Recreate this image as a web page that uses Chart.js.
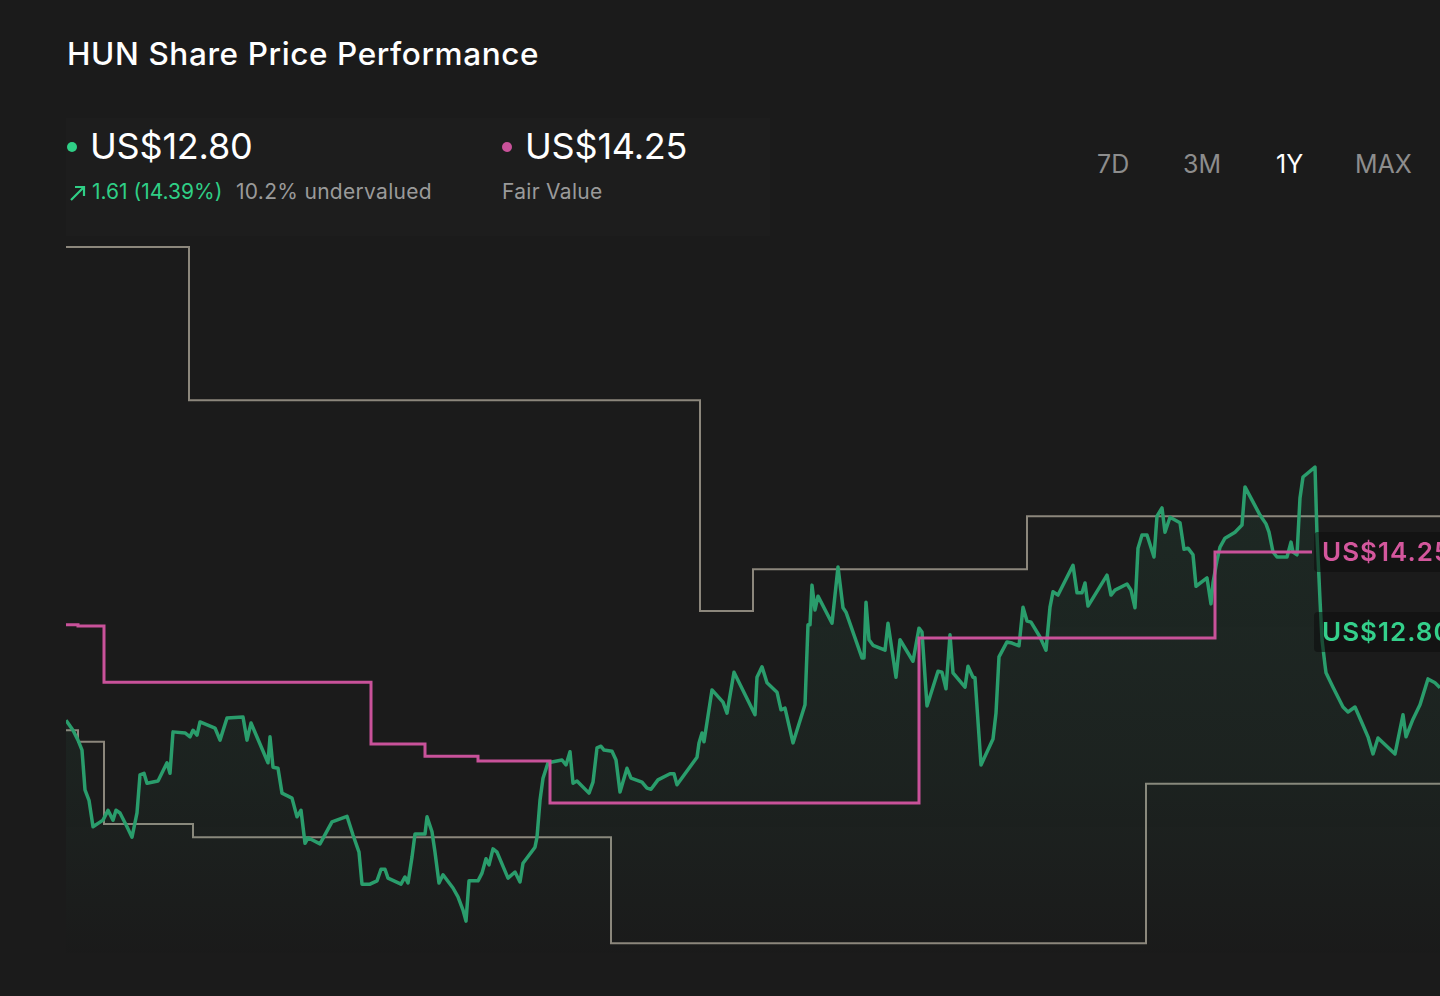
<!DOCTYPE html>
<html>
<head>
<meta charset="utf-8">
<title>HUN Share Price Performance</title>
<script src="https://cdn.jsdelivr.net/npm/chart.js@4.4.1/dist/chart.umd.min.js"></script>
<style>
  html, body { margin: 0; padding: 0; background: #1b1b1b; overflow: hidden; }
  body { width: 1440px; height: 996px; position: relative; font-family: 'Inter', 'Roboto', sans-serif; color: #fff; }
  .abs { position: absolute; white-space: nowrap; }
  #title { left: 67px; top: 38px; font-size: 31.5px; line-height: 31.5px; font-weight: 500; letter-spacing: 0.6px; }
  .headBox { left: 66px; top: 118px; width: 704px; height: 118px; background: rgba(255,255,255,0.01); }
  .big { font-size: 36px; line-height: 36px; top: 128px; letter-spacing: -0.2px; }
  .dot { width: 10px; height: 10px; border-radius: 50%; top: 142px; }
  .sub { font-size: 21px; line-height: 21px; top: 181px; }
  .range { font-size: 25px; line-height: 25px; top: 152px; color: #8d8d8d; }
  #chartWrap { position: absolute; left: 0; top: 230px; width: 1440px; height: 730px; }
</style>
</head>
<body>
<div class="abs" id="title">HUN Share Price Performance</div>
<div class="abs headBox"></div>

<div class="abs dot" style="left:67px; background:#2fcf86;"></div>
<div class="abs big" style="left:90px;">US$12.80</div>
<svg class="abs" style="left:69px; top:184px;" width="18" height="18" viewBox="0 0 18 18">
  <path d="M2 16 L15 3 M6 3 L15 3 L15 12" stroke="#2fcf86" stroke-width="2.2" fill="none"/>
</svg>
<div class="abs sub" style="left:92px; color:#2fcf86;">1.61 (14.39%)</div>
<div class="abs sub" style="left:236px; color:#9a9a9a; letter-spacing:0.3px;">10.2% undervalued</div>

<div class="abs dot" style="left:502px; background:#c9529a;"></div>
<div class="abs big" style="left:525px;">US$14.25</div>
<div class="abs sub" style="left:502px; color:#9a9a9a; letter-spacing:0.3px;">Fair Value</div>

<div class="abs range" style="left:1097px;">7D</div>
<div class="abs range" style="left:1183px;">3M</div>
<div class="abs range" style="left:1276px; color:#fff;">1Y</div>
<div class="abs range" style="left:1355px;">MAX</div>

<div id="chartWrap"><canvas id="priceChart"></canvas></div>

<script>
// days since start of the 1Y window
const priceDays = [0, 1.75, 3, 4, 4.75, 5.75, 6.75, 9.25, 10.5, 11.75, 12.5, 13.5, 15.25, 16.5, 17.75, 18.5, 19.5, 20.25, 23, 25.25,
  26, 26.75, 29.75, 31, 31.75, 32.75, 33.5, 37.25, 38.5, 40.25, 44.25, 45.25, 46.25, 50.5, 51, 51.75, 53, 54, 56.5, 57.75,
  58.75, 59.75, 60.5, 63.5, 66.5, 70.25, 71.75, 73.25, 74, 76, 77.75, 78.75, 79.75, 80.5, 83.75, 84.75, 85.5, 86.5, 87.25, 89.75,
  90.25, 91.5, 92.25, 93.25, 94.25, 96.75, 98, 99.25, 100, 100.75, 103, 104, 105, 105.75, 106.75, 107.75, 110.5, 112.25, 113.5, 114.25,
  117.25, 117.75, 118.5, 119.25, 120.5, 124, 125, 126, 126.75, 127.75, 130.75, 131.75, 132.75, 133.75, 134.5, 136.5, 137.5, 138.5, 140.25, 141.25,
  144, 145.25, 146.25, 148, 151, 152, 152.75, 157.75, 158.25, 159, 159.5, 161.5, 164.25, 165.25, 167, 172.25, 172.75, 174, 175.25, 177.75,
  178.75, 179.75, 181.75, 184.75, 185.5, 186, 186.5, 187.25, 188, 191.5, 193, 194.25, 195, 199, 199.5, 200, 200.75, 201.75, 204.75, 205.5,
  207.5, 208.5, 211.75, 213.25, 214, 215.25, 218, 219, 220, 221, 221.75, 224.75, 225.5, 226.75, 227.25, 228.75, 231.75, 232.5, 233.25, 235.25,
  236.5, 238.25, 239.25, 240.25, 241.25, 243.5, 245, 246, 246.75, 248, 251.75, 252.75, 254, 254.75, 255.5, 260.25, 261.25, 262.25, 265.25, 266.25,
  267.25, 268, 269, 270.25, 272, 272.75, 274, 274.75, 276, 278.5, 279.5, 280.5, 281.75, 282.5, 285.25, 286.25, 286.75, 287.75, 288.5, 289.75,
  292.25, 294, 294.75, 298.5, 300, 300.75, 301.75, 302.75, 305.25, 306.25, 306.75, 307.75, 308.5, 309.25, 312.25, 312.75, 313.5, 314, 314.75, 315,
  316.75, 319.25, 320.5, 322.25, 324.25, 325.5, 326.75, 328, 332.25, 334.25, 335, 336.75, 338.5, 340.5, 342.25, 343.5];
const priceValues = [11.20, 11.02, 10.84, 10.66, 9.94, 9.75, 9.27, 9.39, 9.57, 9.39, 9.57, 9.52, 9.27, 9.08, 9.52, 10.21, 10.24, 10.06, 10.10, 10.43,
  10.24, 10.99, 10.97, 10.90, 11.02, 10.93, 11.17, 11.06, 10.84, 11.24, 11.26, 10.84, 11.15, 10.43, 10.90, 10.35, 10.33, 9.88, 9.79, 9.45,
  9.57, 8.97, 9.07, 8.96, 9.36, 9.46, 9.12, 8.81, 8.23, 8.23, 8.29, 8.50, 8.50, 8.34, 8.23, 8.36, 8.25, 8.72, 9.14, 9.14,
  9.45, 9.18, 8.81, 8.25, 8.40, 8.16, 8.00, 7.76, 7.56, 8.29, 8.29, 8.43, 8.69, 8.58, 8.87, 8.81, 8.34, 8.45, 8.27, 8.61,
  8.90, 9.08, 9.75, 10.15, 10.43, 10.48, 10.39, 10.63, 10.06, 10.10, 9.88, 10.08, 10.70, 10.73, 10.66, 10.64, 10.48, 9.90, 10.33, 10.15,
  10.08, 9.97, 9.95, 10.12, 10.23, 10.23, 10.03, 10.53, 10.79, 10.97, 10.81, 11.75, 11.53, 11.33, 12.07, 11.30, 11.98, 12.17, 11.88, 11.71,
  11.39, 11.42, 10.79, 11.48, 12.93, 12.93, 13.65, 13.20, 13.45, 12.96, 13.98, 13.24, 13.16, 12.33, 12.33, 13.34, 12.66, 12.56, 12.47, 12.96,
  11.98, 12.66, 12.27, 12.87, 12.80, 11.46, 12.09, 12.07, 11.77, 12.75, 12.06, 11.80, 12.18, 11.98, 11.97, 10.39, 10.86, 11.33, 12.35, 12.62,
  12.60, 12.55, 13.25, 13.00, 12.98, 12.71, 12.47, 13.25, 13.53, 13.47, 14.01, 13.51, 13.51, 13.69, 13.27, 13.83, 13.47, 13.56, 13.67, 13.56,
  13.24, 14.32, 14.56, 14.56, 14.16, 14.90, 15.05, 14.61, 14.88, 14.78, 14.30, 14.32, 14.20, 13.63, 13.78, 13.31, 13.69, 14.10, 14.34, 14.50,
  14.61, 14.74, 15.43, 14.92, 14.76, 14.61, 14.25, 14.16, 14.16, 14.43, 14.25, 14.20, 15.23, 15.61, 15.79, 14.56, 13.38, 12.66, 12.20, 12.06,
  11.80, 11.44, 11.35, 11.44, 11.11, 10.90, 10.59, 10.88, 10.59, 11.30, 10.90, 11.22, 11.48, 11.95, 11.88, 11.79];

// step series: value holds from each day until the next one
const fairValueDays = [0, 3, 9.5, 76.25, 89.75, 103, 121, 213.25, 287.25, 311.5];
const fairValues = [12.93, 12.91, 11.89, 10.77, 10.55, 10.46, 9.70, 12.69, 14.25, 14.25];
const highTargetDays = [0, 30.75, 158.5, 171.75, 240.25, 352];
const highTargets = [19.78, 17.00, 13.18, 13.94, 14.90, 14.90];
const lowTargetDays = [0, 3, 9.5, 31.75, 136.25, 270, 352];
const lowTargets = [11.02, 10.81, 9.32, 9.08, 7.16, 10.05, 10.05];

const currentPrice = 12.80;
const fairValue = 14.25;

function toPoints(days, values) {
    return days.map((d, i) => ({ x: d, y: values[i] }));
}

const GREEN = '#2a9d6c';
const PINK = '#c9529a';
const GREY = '#8c877c';

// price tags at the right end of the fair value line
const endLabels = {
    id: 'endLabels',
    afterDatasetsDraw(chart) {
        const ctx = chart.ctx;
        const xs = chart.scales.x;
        const ys = chart.scales.y;
        const left = xs.getPixelForValue(fairValueDays[fairValueDays.length - 1]);
        const tags = [
            { value: fairValue, color: '#d4579d' },
            { value: currentPrice, color: '#34d08b' }
        ];
        ctx.save();
        ctx.font = '600 26px Inter, sans-serif';
        ctx.letterSpacing = '1px';
        ctx.textBaseline = 'middle';
        tags.forEach(t => {
            const y = ys.getPixelForValue(t.value);
            ctx.fillStyle = 'rgba(12,12,12,0.55)';
            ctx.beginPath();
            ctx.roundRect(left + 2, y - 20, 170, 40, 4);
            ctx.fill();
            ctx.fillStyle = t.color;
            ctx.fillText('US$' + t.value.toFixed(2), left + 10, y + 1);
        });
        ctx.restore();
    }
};

new Chart(document.getElementById('priceChart'), {
    type: 'line',
    data: {
        datasets: [
            {
                label: 'Fair Value',
                data: toPoints(fairValueDays, fairValues),
                borderColor: PINK,
                borderWidth: 3,
                stepped: 'before',
                pointRadius: 0,
                fill: false,
                order: 0
            },
            {
                label: 'Share Price',
                data: toPoints(priceDays, priceValues),
                borderColor: GREEN,
                borderWidth: 3.5,
                borderJoinStyle: 'round',
                pointRadius: 0,
                tension: 0,
                fill: 'start',
                backgroundColor: function(context) {
                    const area = context.chart.chartArea;
                    if (!area) return 'rgba(0,0,0,0)';
                    const g = context.chart.ctx.createLinearGradient(0, area.top, 0, area.bottom);
                    g.addColorStop(0, 'rgba(60,180,130,0.13)');
                    g.addColorStop(0.75, 'rgba(60,180,130,0.05)');
                    g.addColorStop(1, 'rgba(60,180,130,0)');
                    return g;
                },
                order: 1
            },
            {
                label: 'Analyst High',
                data: toPoints(highTargetDays, highTargets),
                borderColor: GREY,
                borderWidth: 2,
                stepped: 'before',
                pointRadius: 0,
                fill: false,
                order: 2
            },
            {
                label: 'Analyst Low',
                data: toPoints(lowTargetDays, lowTargets),
                borderColor: GREY,
                borderWidth: 2,
                stepped: 'before',
                pointRadius: 0,
                fill: false,
                order: 2
            }
        ]
    },
    options: {
        responsive: true,
        maintainAspectRatio: false,
        animation: false,
        layout: { padding: { left: 66, right: 0, top: 0, bottom: 0 } },
        scales: {
            x: { type: 'linear', min: 0, max: 343.5, display: false },
            y: { min: 6.855, max: 20.087, display: false }
        },
        plugins: {
            legend: { display: false },
            tooltip: { enabled: false }
        }
    },
    plugins: [endLabels]
});
</script>
</body>
</html>
